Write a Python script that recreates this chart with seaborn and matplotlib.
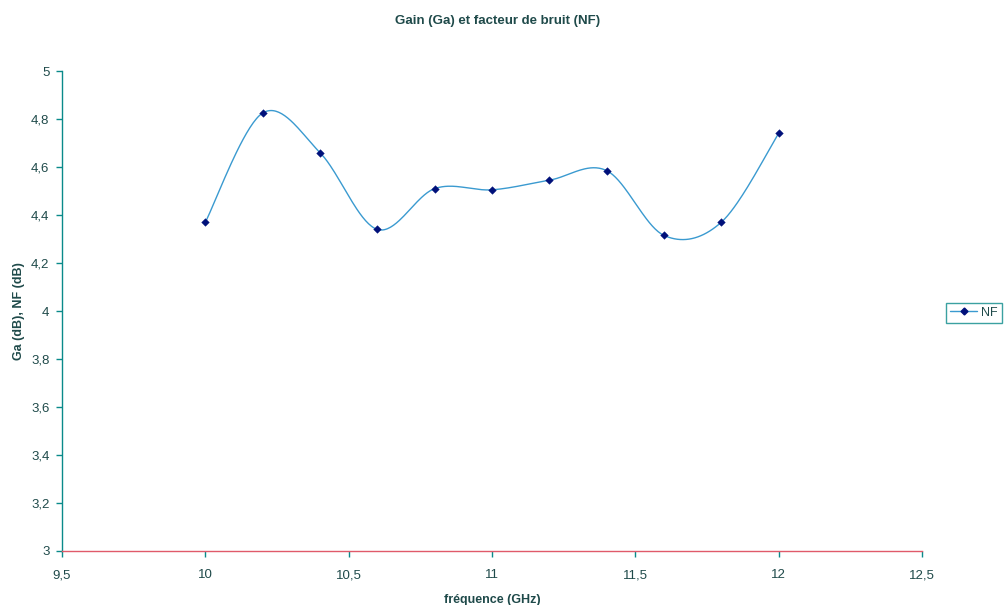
import numpy as np
import pandas as pd
import matplotlib
matplotlib.use("Agg")
import matplotlib.pyplot as plt
import seaborn as sns
from matplotlib.lines import Line2D

freq = [10.0, 10.2, 10.4, 10.6, 10.8, 11.0, 11.2, 11.4, 11.6, 11.8, 12.0]
nf = [4.37, 4.825, 4.66, 4.34, 4.51, 4.505, 4.545, 4.585, 4.315, 4.37, 4.74]
x_ticks = [9.5, 10, 10.5, 11, 11.5, 12, 12.5]
x_tick_labels = ["9,5", "10", "10,5", "11", "11,5", "12", "12,5"]
y_ticks = [3, 3.2, 3.4, 3.6, 3.8, 4, 4.2, 4.4, 4.6, 4.8, 5]
y_tick_labels = ["3", "3,2", "3,4", "3,6", "3,8", "4", "4,2", "4,4", "4,6", "4,8", "5"]

sns.set_theme(style="white")
plt.rcParams['font.family'] = ['Liberation Sans', 'DejaVu Sans']

TXT = "#1f4a4a"
LINE = "#3a9ad0"
MARK = "#00107a"
YSP = "#0a8a8a"
XSP = "#e05a6a"

df = pd.DataFrame({"freq": freq, "NF": nf})

# Excel-like smoothed curve (Catmull-Rom Bezier rendering between the points)
def smooth(xs, ys, n=40):
    xs = np.asarray(xs, float); ys = np.asarray(ys, float)
    px = np.concatenate([[xs[0]], xs, [xs[-1]]])
    py = np.concatenate([[ys[0]], ys, [ys[-1]]])
    ox, oy = [], []
    for i in range(1, len(px) - 2):
        p0 = np.array([px[i], py[i]]); p3 = np.array([px[i + 1], py[i + 1]])
        c1 = p0 + (np.array([px[i + 1], py[i + 1]]) - np.array([px[i - 1], py[i - 1]])) / 6
        c2 = p3 - (np.array([px[i + 2], py[i + 2]]) - np.array([px[i], py[i]])) / 6
        t = np.linspace(0, 1, n)[:, None]
        b = (1 - t) ** 3 * p0 + 3 * (1 - t) ** 2 * t * c1 + 3 * (1 - t) * t ** 2 * c2 + t ** 3 * p3
        ox.extend(b[:, 0]); oy.extend(b[:, 1])
    return np.array(ox), np.array(oy)

fig = plt.figure(figsize=(10.05, 6.05), dpi=100)
ax = fig.add_axes([0.0617, 0.0893, 0.8557, 0.7933])

sx, sy = smooth(freq, nf)
ax.plot(sx, sy, color=LINE, lw=1.0, zorder=2)
sns.scatterplot(data=df, x="freq", y="NF", ax=ax, marker="D", s=15,
                color=MARK, edgecolor=MARK, zorder=3, legend=False)

ax.set_xlim(9.5, 12.5)
ax.set_ylim(3, 5)
ax.set_xticks(x_ticks)
ax.set_xticklabels(x_tick_labels)
ax.set_yticks(y_ticks)
ax.set_yticklabels(y_tick_labels)
ax.tick_params(axis="both", which="major", direction="out", length=4, width=1,
               labelsize=9.5, labelcolor=TXT, left=True, bottom=True)
ax.tick_params(axis="y", colors=YSP, labelcolor=TXT, pad=5)
ax.tick_params(axis="x", colors=YSP, labelcolor=TXT, pad=9)
for s in ["top", "right"]:
    ax.spines[s].set_visible(False)
ax.spines["left"].set_color(YSP)
ax.spines["left"].set_linewidth(1)
ax.spines["bottom"].set_color(XSP)
ax.spines["bottom"].set_linewidth(1)

ax.set_xlabel("fréquence (GHz)", fontsize=9, fontweight="bold", color=TXT, labelpad=9)
ax.set_ylabel("Ga (dB), NF (dB)", fontsize=9, fontweight="bold", color=TXT)
ax.yaxis.set_label_coords(-0.043, 0.5)
fig.text(0.495, 0.965, "Gain (Ga) et facteur de bruit (NF)", ha="center", va="center",
         fontsize=9.5, fontweight="bold", color=TXT)

handle = Line2D([0], [0], color=LINE, lw=1.0, marker="D", markersize=3.5,
                markerfacecolor=MARK, markeredgecolor=MARK)
leg = fig.legend([handle], ["NF"], loc="center", bbox_to_anchor=(0.969, 0.483),
                 frameon=True, fancybox=False, fontsize=9, handlelength=2.2,
                 borderpad=0.3, handletextpad=0.3, labelcolor=TXT)
leg.get_frame().set_edgecolor(YSP)
leg.get_frame().set_linewidth(1)

fig.savefig("out.png", dpi=100)
